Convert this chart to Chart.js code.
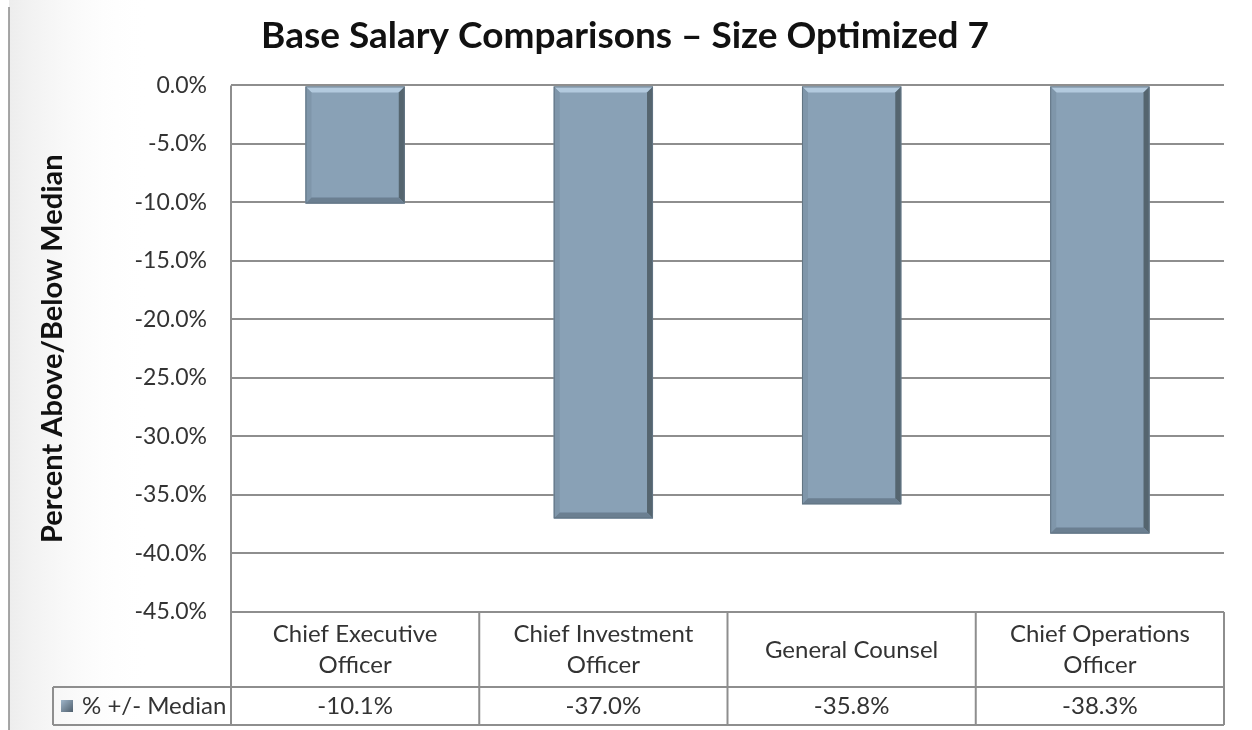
<!DOCTYPE html>
<html><head><meta charset="utf-8">
<script src="https://cdn.jsdelivr.net/npm/chart.js@4"></script>
<style>html,body{margin:0;padding:0;background:#fff}canvas{display:block}</style>
</head><body>
<canvas id="c" width="1252" height="730"></canvas>
<script>
const chartTitle = 'Base Salary Comparisons – Size Optimized 7';
const axisTitle = 'Percent Above/Below Median';
const seriesName = '% +/- Median';
const categories = [['Chief Executive','Officer'],['Chief Investment','Officer'],['General Counsel'],['Chief Operations','Officer']];
const values = [-10.1, -37.0, -35.8, -38.3];
const yMin = -45, yMax = 0, yStep = 5;

const FONT = 'Lato, "Open Sans", sans-serif';
const GRID = '#8e8e8e';
const BAR = '#89a1b6';
const TXT = '#333333';

function fmt(v){ return v.toFixed(1) + '%'; }

const bgPlugin = {
  id: 'bg',
  beforeDraw(chart){
    const ctx = chart.ctx, W = chart.width, H = chart.height;
    ctx.save();
    ctx.fillStyle = '#fff'; ctx.fillRect(0,0,W,H);
    let g = ctx.createLinearGradient(9,0,150,0);
    g.addColorStop(0,'#ededed'); g.addColorStop(1,'rgba(255,255,255,0)');
    ctx.fillStyle = g; ctx.fillRect(9,0,141,H);
    ctx.strokeStyle = '#8a8a8a'; ctx.lineWidth = 1.5;
    ctx.beginPath(); ctx.moveTo(9,7); ctx.lineTo(9,H); ctx.stroke();
    ctx.restore();
  }
};

const bevelPlugin = {
  id: 'bevel',
  afterDatasetsDraw(chart){
    const ctx = chart.ctx;
    const meta = chart.getDatasetMeta(0);
    ctx.save();
    meta.data.forEach(el => {
      const p = el.getProps(['x','y','base','width'], true);
      const l = p.x - p.width/2, r = p.x + p.width/2;
      const t = Math.min(p.y, p.base), b = Math.max(p.y, p.base);
      const d = 6;
      ctx.fillStyle = '#b3cade';
      ctx.beginPath(); ctx.moveTo(l,t); ctx.lineTo(r,t); ctx.lineTo(r-d,t+d); ctx.lineTo(l+d,t+d); ctx.closePath(); ctx.fill();
      ctx.fillStyle = '#7f96aa';
      ctx.beginPath(); ctx.moveTo(l,t); ctx.lineTo(l+d,t+d); ctx.lineTo(l+d,b-d); ctx.lineTo(l,b); ctx.closePath(); ctx.fill();
      ctx.fillStyle = '#55656f';
      ctx.beginPath(); ctx.moveTo(r,t); ctx.lineTo(r,b); ctx.lineTo(r-d,b-d); ctx.lineTo(r-d,t+d); ctx.closePath(); ctx.fill();
      ctx.fillStyle = '#6b7f91';
      ctx.beginPath(); ctx.moveTo(l,b); ctx.lineTo(r,b); ctx.lineTo(r-d,b-d); ctx.lineTo(l+d,b-d); ctx.closePath(); ctx.fill();
      ctx.strokeStyle = '#627483'; ctx.lineWidth = 1;
      ctx.strokeRect(l+0.5, t+0.5, r-l-1, b-t-1);
    });
    ctx.restore();
  }
};

const tablePlugin = {
  id: 'dataTable',
  afterDraw(chart){
    const ctx = chart.ctx, xs = chart.scales.x, a = chart.chartArea;
    const top = a.bottom, mid = top + 75, bot = mid + 38;
    const legendLeft = 53;
    const n = categories.length;
    const edges = [a.left];
    for (let i = 0; i < n - 1; i++) edges.push((xs.getPixelForValue(i) + xs.getPixelForValue(i+1)) / 2);
    edges.push(a.right);
    ctx.save();
    ctx.strokeStyle = GRID; ctx.lineWidth = 2;
    const line = (x1,y1,x2,y2) => { ctx.beginPath(); ctx.moveTo(x1,y1); ctx.lineTo(x2,y2); ctx.stroke(); };
    line(a.left, top, a.right, top);
    line(legendLeft, mid, a.right, mid);
    line(legendLeft, bot, a.right, bot);
    line(a.left, a.top, a.left, bot);
    for (let i = 1; i < edges.length; i++) line(edges[i], top, edges[i], bot);
    line(legendLeft, mid, legendLeft, bot);
    ctx.fillStyle = TXT;
    ctx.font = '24px ' + FONT;
    ctx.textAlign = 'center'; ctx.textBaseline = 'middle';
    categories.forEach((lines, i) => {
      const cx = xs.getPixelForValue(i);
      const lh = 31;
      const y0 = top + 38 - (lines.length - 1) * lh / 2;
      lines.forEach((s, j) => ctx.fillText(s, cx, y0 + j * lh));
      ctx.fillText(fmt(values[i]), cx, mid + 19);
    });
    const g = ctx.createLinearGradient(61,700,73,712);
    g.addColorStop(0,'#9fb5c9'); g.addColorStop(1,'#4f5f6d');
    ctx.fillStyle = g; ctx.fillRect(61, 700, 12, 12);
    ctx.fillStyle = TXT; ctx.textAlign = 'left';
    ctx.fillText(seriesName, 82, mid + 19);
    ctx.restore();
  }
};

new Chart(document.getElementById('c'), {
  type: 'bar',
  data: {
    labels: categories,
    datasets: [{ label: seriesName, data: values, backgroundColor: BAR, borderWidth: 0,
      categoryPercentage: 1, barPercentage: 0.4 }]
  },
  options: {
    responsive: false, animation: false,
    layout: { padding: { left: 26, right: 28, top: 14, bottom: 118 } },
    plugins: {
      legend: { display: false }, tooltip: { enabled: false },
      title: { display: true, text: chartTitle, color: '#111',
        font: { family: FONT, size: 37, weight: 'bold' }, padding: { top: 0, bottom: 27 } }
    },
    scales: {
      x: { display: false },
      y: {
        min: yMin, max: yMax,
        afterFit(scale){ scale.width = 205; },
        ticks: { stepSize: yStep, callback: v => fmt(v), color: TXT, padding: 24,
          font: { family: FONT, size: 23 } },
        grid: { color: GRID, lineWidth: 2, drawTicks: false },
        border: { display: false },
        title: { display: true, text: axisTitle, color: '#111', padding: { top: 9, bottom: 0 },
          font: { family: FONT, size: 29, weight: 'bold' } }
      }
    }
  },
  plugins: [bgPlugin, bevelPlugin, tablePlugin]
});
</script>
</body></html>
